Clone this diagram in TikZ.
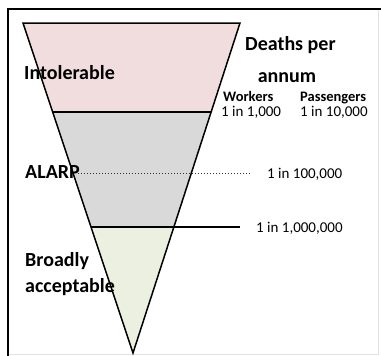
\documentclass[tikz,border=0pt]{standalone}
\usepackage{fontspec}
\setmainfont{Carlito}
\definecolor{bandpink}{RGB}{242,221,222}
\definecolor{bandgray}{RGB}{217,217,217}
\definecolor{bandgreen}{RGB}{236,240,224}
\definecolor{framegray}{RGB}{225,225,225}
\begin{document}
\begin{tikzpicture}[x=1pt,y=-1pt,
  lab/.style={anchor=base west,inner sep=0pt,font=\bfseries\fontsize{20}{22}\selectfont},
  sublab/.style={anchor=base west,inner sep=0pt,font=\bfseries\fontsize{14.5}{16}\selectfont},
  num/.style={anchor=base west,inner sep=0pt,font=\fontsize{15}{17}\selectfont},
  edge/.style={line width=1.5pt,line join=miter},
  level/.style={line width=1.2pt},
  dotline/.style={line width=1pt,dotted,black!80}]
\useasboundingbox (0,0) rectangle (381,356);
% frame
\draw[framegray,line width=1pt] (378,9) -- (378,354) -- (8,354);
\draw[black,line width=2pt] (8,356) -- (8,9) -- (381,9);
% triangle corners
\coordinate (tl) at (23,23);
\coordinate (tr) at (240,23);
\coordinate (apex) at (133,353);
\coordinate (l1) at (52.7,112);
\coordinate (r1) at (211.1,112);
\coordinate (l2) at (91,227);
\coordinate (r2) at (173.9,227);
% bands
\fill[bandpink] (tl) -- (tr) -- (r1) -- (l1) -- cycle;
\fill[bandgray] (l1) -- (r1) -- (r2) -- (l2) -- cycle;
\fill[bandgreen] (l2) -- (r2) -- (apex) -- cycle;
% labels
\node[lab] (intol) at (24,79) {Intolerable};
\node[lab] (alarp) at (25,178) {ALARP};
\node[lab] (broad) at (25,266) {Broadly};
\node[lab] (accept) at (25,292) {acceptable};
\node[lab] (deaths) at (245,50) {Deaths per};
\node[lab,anchor=base] (annum) at (287,82) {annum};
\node[sublab] (workers) at (223,101) {Workers};
\node[sublab] (pass) at (300,101) {Passengers};
\node[num] (n1) at (221,116) {1 in 1,000};
\node[num] (n2) at (300,116) {1 in 10,000};
\node[num] (n3) at (267,178) {1 in 100,000};
\node[num] (n4) at (256,232) {1 in 1,000,000};
% level lines
\coordinate (dotstart) at (78,173);
\coordinate (dotend) at (250,173);
\coordinate (solidend) at (240,227);
\draw[dotline] (dotstart) -- (dotend);
\draw[level] (l1) -- (r1);
\draw[level] (l2) -- (solidend);
% outline
\draw[edge] (apex) -- (tl) -- (tr) -- cycle;
\end{tikzpicture}
\end{document}
